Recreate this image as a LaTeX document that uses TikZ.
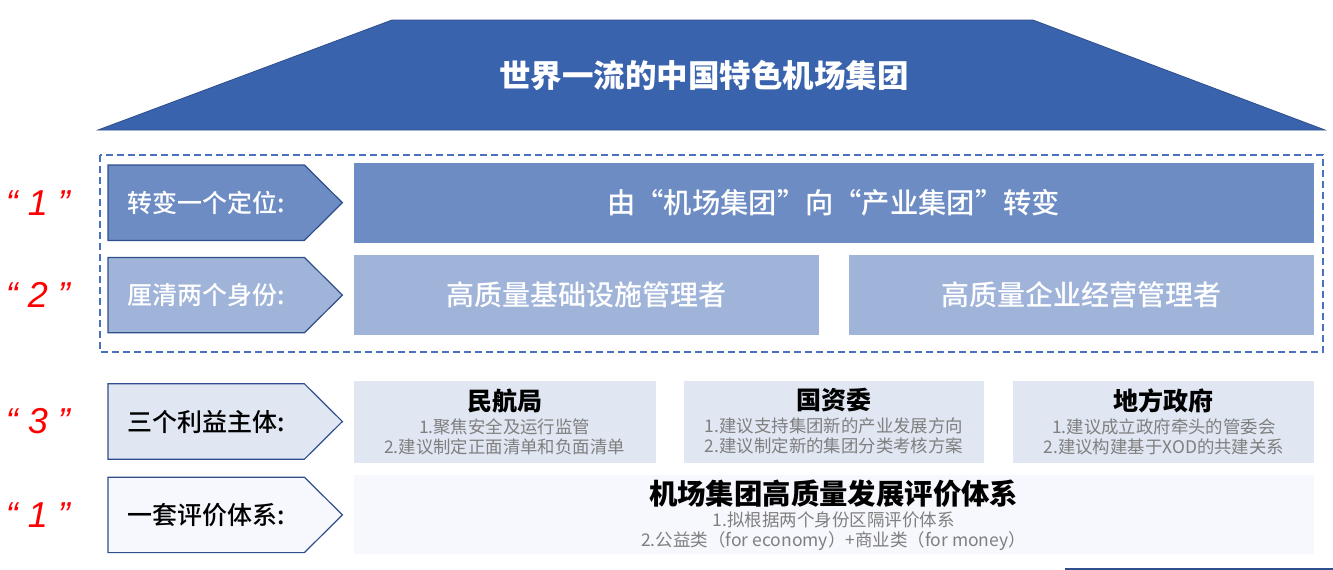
\documentclass[tikz,border=0pt]{standalone}
\usepackage{fontspec}
\setmainfont{Noto Sans CJK SC}
\newfontfamily\numfont{Liberation Sans}
\IfFontExistsTF{Noto Sans CJK SC Medium}
  {\newfontfamily\midfont{Noto Sans CJK SC Medium}}
  {\newcommand{\midfont}{\bfseries}}
\usetikzlibrary{shapes.geometric, positioning, backgrounds}

\definecolor{topblue}{HTML}{3A63AE}
\definecolor{edgeblue}{HTML}{2F4F8C}
\definecolor{rowone}{HTML}{6D8CC4}
\definecolor{rowtwo}{HTML}{A0B4DA}
\definecolor{rowthree}{HTML}{E0E6F2}
\definecolor{rowfour}{HTML}{F7F8FD}
\definecolor{dashblue}{HTML}{4A70C0}
\definecolor{subgray}{HTML}{7F7F7F}
\newcommand{\fsz}[2]{\fontsize{#1}{#2}\selectfont}

\begin{document}
\begin{tikzpicture}[
  x=1pt, y=-1pt,
  tag/.style={rectangle, minimum width=196pt, minimum height=75pt, inner sep=0pt, font=\midfont\fsz{25}{27}},
  tagline/.style={draw=edgeblue, line width=1.2pt},
  panel/.style={rectangle, inner sep=0pt, align=center},
  numlabel/.style={text=red, font=\numfont\itshape\fsz{36}{38}, inner sep=0pt},
]
  \useasboundingbox (0,0) rectangle (1333,570);

  % crown
  \filldraw[fill=topblue, draw=edgeblue, line width=0.8pt] (392,20) -- (1033,20) -- (1325,130) -- (98,130) -- cycle;
  \node[text=white, font=\bfseries\fsz{31.5}{34}] (crown) at (704,75) {世界一流的中国特色机场集团};

  % left tags
  \node[tag, text=white, anchor=north west] (tagA) at (108,165) {转变一个定位:};
  \node[tag, text=white, below=17pt of tagA] (tagB) {厘清两个身份:};
  \node[tag, below=51pt of tagB] (tagC) {三个利益主体:};
  \node[tag, below=18pt of tagC] (tagD) {一套评价体系:};

  \node[numlabel, left=38pt of tagA] (numA) {“ 1 ”};
  \node[numlabel, left=38pt of tagB] (numB) {“ 2 ”};
  \node[numlabel, left=38pt of tagC] (numC) {“ 3 ”};
  \node[numlabel, left=38pt of tagD] (numD) {“ 1 ”};

  \begin{scope}[on background layer]
    \filldraw[tagline, fill=rowone] (tagA.north west) -- (tagA.north east) -- ([xshift=38pt]tagA.east) -- (tagA.south east) -- (tagA.south west) -- cycle;
    \filldraw[tagline, fill=rowtwo] (tagB.north west) -- (tagB.north east) -- ([xshift=38pt]tagB.east) -- (tagB.south east) -- (tagB.south west) -- cycle;
    \filldraw[tagline, fill=rowthree] (tagC.north west) -- (tagC.north east) -- ([xshift=38pt]tagC.east) -- (tagC.south east) -- (tagC.south west) -- cycle;
    \filldraw[tagline, fill=rowfour] (tagD.north west) -- (tagD.north east) -- ([xshift=38pt]tagD.east) -- (tagD.south east) -- (tagD.south west) -- cycle;
  \end{scope}

  % row 1
  \node[panel, fill=rowone, minimum width=960pt, minimum height=80pt, text=white, font=\midfont\fsz{28.3}{30}, right=49pt of tagA] (posA) {由“机场集团”向“产业集团”转变};
  % row 2
  \node[panel, fill=rowtwo, minimum width=465pt, minimum height=80pt, text=white, font=\midfont\fsz{28}{30}, right=49pt of tagB] (idA) {高质量基础设施管理者};
  \node[panel, fill=rowtwo, minimum width=465pt, minimum height=80pt, text=white, font=\midfont\fsz{28}{30}, right=30pt of idA] (idB) {高质量企业经营管理者};
  % row 3
  \node[panel, fill=rowthree, minimum width=302pt, minimum height=82pt, text=subgray, font=\fsz{17.4}{20}, right=49pt of tagC] (partyA)
    {\textcolor{black}{\bfseries\fsz{25}{26}民航局}\\[3pt] 1.聚焦安全及运行监管\\ 2.建议制定正面清单和负面清单};
  \node[panel, fill=rowthree, minimum width=300pt, minimum height=82pt, text=subgray, font=\fsz{17.4}{20}, right=28pt of partyA] (partyB)
    {\textcolor{black}{\bfseries\fsz{25}{26}国资委}\\[3pt] 1.建议支持集团新的产业发展方向\\ 2.建议制定新的集团分类考核方案};
  \node[panel, fill=rowthree, minimum width=301pt, minimum height=82pt, text=subgray, font=\fsz{17.4}{20}, right=29pt of partyB] (partyC)
    {\textcolor{black}{\bfseries\fsz{25}{26}地方政府}\\[3pt] 1.建议成立政府牵头的管委会\\ 2.建议构建基于XOD的共建关系};
  % row 4
  \node[panel, fill=rowfour, minimum width=960pt, minimum height=79pt, text=subgray, font=\fsz{17.5}{20}, right=49pt of tagD] (evalA)
    {\textcolor{black}{\bfseries\fsz{28.4}{28}机场集团高质量发展评价体系}\\[2pt] 1.拟根据两个身份区隔评价体系\\ 2.公益类（for economy）+商业类（for money）};

  % frame round rows 1-2
  \draw[dashblue, line width=1.5pt, dash pattern=on 7pt off 4pt] (100,155) rectangle (1323,352);
  \draw[edgeblue, line width=2pt] (1065,569) -- (1333,569);
\end{tikzpicture}
\end{document}
